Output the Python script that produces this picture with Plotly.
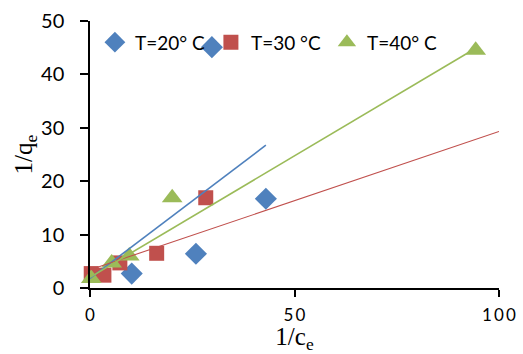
import plotly.graph_objects as go

# Langmuir linearisation: 1/qe versus 1/ce at three temperatures
series_names = ["T=20° C", "T=30 °C", "T=40° C"]

x_20 = [10.2, 25.9, 29.8, 43.0]
y_20 = [2.7, 6.4, 45.1, 16.7]

x_30 = [0.3, 3.4, 7.3, 16.3, 28.3]
y_30 = [2.7, 2.4, 4.7, 6.5, 16.9]

x_40 = [0.3, 5.3, 9.6, 20.1, 94.3]
y_40 = [1.8, 4.7, 6.0, 16.9, 44.5]

# linear trendlines: intercept, slope, x extent
fit_intercepts = [1.8, 3.4, 2.0]
fit_slopes = [0.58, 0.259, 0.455]
fit_x_start = [0, 0, 0]
fit_x_end = [43.0, 100.0, 94.3]

x_tick_vals = [0, 50, 100]
x_tick_text = ["0", "5\u20090", "1\u20090\u20090"]
y_tick_vals = [0, 10, 20, 30, 40, 50]

colors = ["#4F81BD", "#C0504D", "#9BBB59"]
symbols = ["diamond", "square", "triangle-up"]
sizes = [17, 15, 18]
line_widths = [1.6, 1.1, 1.6]

fig = go.Figure()

for name, xs, ys, c, s, sz in zip(series_names, [x_20, x_30, x_40], [y_20, y_30, y_40],
                                   colors, symbols, sizes):
    fig.add_trace(go.Scatter(
        x=xs, y=ys, mode="markers", name=name,
        marker=dict(symbol=s, size=sz, color=c, line=dict(width=0)),
        cliponaxis=False,
    ))

for a, b, x0, x1, c, w in zip(fit_intercepts, fit_slopes, fit_x_start, fit_x_end, colors, line_widths):
    fig.add_trace(go.Scatter(
        x=[x0, x1], y=[a + b * x0, a + b * x1], mode="lines",
        line=dict(color=c, width=w), showlegend=False, hoverinfo="skip",
        cliponaxis=False,
    ))

fig.update_layout(
    width=523, height=354,
    margin=dict(l=90, r=24, t=21, b=66, autoexpand=False),
    paper_bgcolor="white", plot_bgcolor="white",
    font=dict(family="Lato", size=20, color="black"),
    showlegend=True,
    legend=dict(
        orientation="h", x=0.012, y=0.92, xanchor="left", yanchor="middle",
        bgcolor="rgba(0,0,0,0)", font=dict(size=19),
        entrywidth=71, entrywidthmode="pixels", itemwidth=30,
    ),
    xaxis=dict(
        range=[0, 100], tickvals=x_tick_vals, ticktext=x_tick_text, automargin=False,
        showgrid=False, zeroline=False, showline=True, linecolor="black", linewidth=1.5,
        ticks="outside", ticklen=7, tickwidth=1.5, tickcolor="black",
        tickfont=dict(size=17), ticklabelstandoff=4,
        title=dict(text="1/c<sub>e</sub>", font=dict(family="Liberation Serif", size=25), standoff=3),
    ),
    yaxis=dict(
        range=[0, 50], tickvals=y_tick_vals, automargin=False,
        showgrid=False, zeroline=False, showline=True, linecolor="black", linewidth=1.5,
        ticks="outside", ticklen=8, tickwidth=1.5, tickcolor="black",
        tickfont=dict(size=20), ticklabelstandoff=12,
        title=dict(text="1/q<sub>e</sub>", font=dict(family="Liberation Serif", size=25), standoff=1),
    ),
)

fig.write_html("out.html")
